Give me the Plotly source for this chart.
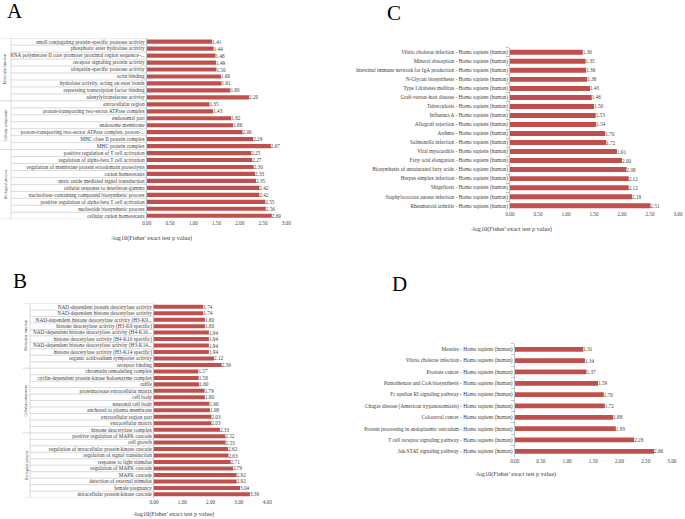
import plotly.graph_objects as go

W, H = 685, 519
BAR = "#C0504D"
GRID = "#D0D0D0"
TXT = "#404040"
FONT = "Liberation Serif"

# ---------------- Panel A (GO, group 1) ----------------
a_groups = ["Molecular function", "Cellular component", "Biological process"]
a_mf_terms = ["small conjugating protein-specific protease activity", "phosphoric ester hydrolase activity",
              "RNA polymerase II core promoter proximal region sequence-...", "receptor signaling protein activity",
              "ubiquitin-specific protease activity", "actin binding", "hydrolase activity, acting on ester bonds",
              "repressing transcription factor binding", "adenylyltransferase activity"]
a_mf_vals = [1.41, 1.44, 1.48, 1.49, 1.50, 1.60, 1.61, 1.80, 2.20]
a_cc_terms = ["extracellular region", "proton-transporting two-sector ATPase complex", "endosomal part",
              "endosome membrane", "proton-transporting two-sector ATPase complex, proton-...",
              "MHC class II protein complex", "MHC protein complex"]
a_cc_vals = [1.35, 1.43, 1.82, 1.86, 2.06, 2.29, 2.67]
a_bp_terms = ["positive regulation of T cell activation", "regulation of alpha-beta T cell activation",
              "regulation of membrane protein ectodomain proteolysis", "cation homeostasis",
              "nitric oxide mediated signal transduction", "cellular response to interferon-gamma",
              "nucleobase-containing compound biosynthetic process",
              "positive regulation of alpha-beta T cell activation", "nucleotide biosynthetic process",
              "cellular cation homeostasis"]
a_bp_vals = [2.25, 2.27, 2.30, 2.33, 2.35, 2.42, 2.42, 2.55, 2.56, 2.69]

# ---------------- Panel B (GO, group 2) ----------------
b_groups = ["Molecular function", "Cellular component", "Biological process"]
b_mf_terms = ["NAD-dependent protein deacetylase activity", "NAD-dependent histone deacetylase activity",
              "NAD-dependent histone deacetylase activity (H3-K9...", "histone deacetylase activity (H3-K9 specific)",
              "NAD-dependent histone deacetylase activity (H4-K16...", "histone deacetylase activity (H4-K16 specific)",
              "NAD-dependent histone deacetylase activity (H3-K14...", "histone deacetylase activity (H3-K14 specific)",
              "organic acid:sodium symporter activity", "receptor binding"]
b_mf_vals = [1.74, 1.74, 1.80, 1.80, 1.94, 1.94, 1.94, 1.94, 2.12, 2.39]
b_cc_terms = ["chromatin remodeling complex", "cyclin-dependent protein kinase holoenzyme complex", "ruffle",
              "proteinaceous extracellular matrix", "cell body", "neuronal cell body", "anchored to plasma membrane",
              "extracellular region part", "extracellular matrix", "histone deacetylase complex"]
b_cc_vals = [1.57, 1.58, 1.60, 1.79, 1.80, 1.96, 1.98, 2.03, 2.03, 2.33]
b_bp_terms = ["positive regulation of MAPK cascade", "cell growth", "regulation of intracellular protein kinase cascade",
              "regulation of signal transduction", "response to light stimulus", "regulation of MAPK cascade",
              "MAPK cascade", "detection of external stimulus", "female pregnancy",
              "intracellular protein kinase cascade"]
b_bp_vals = [2.52, 2.53, 2.62, 2.63, 2.71, 2.79, 2.92, 2.92, 3.04, 3.39]

# ---------------- Panel C (KEGG, group 1) ----------------
c_terms = ["Vibrio cholerae infection", "Mineral absorption", "Intestinal immune network for IgA production",
           "N-Glycan biosynthesis", "Type I diabetes mellitus", "Graft-versus-host disease", "Tuberculosis",
           "Influenza A", "Allograft rejection", "Asthma", "Salmonella infection", "Viral myocarditis",
           "Fatty acid elongation", "Biosynthesis of unsaturated fatty acids", "Herpes simplex infection",
           "Shigellosis", "Staphylococcus aureus infection", "Rheumatoid arthritis"]
c_vals = [1.30, 1.35, 1.36, 1.38, 1.43, 1.46, 1.50, 1.53, 1.54, 1.70, 1.72, 1.91, 2.00, 2.08, 2.12, 2.12, 2.18, 2.51]

# ---------------- Panel D (KEGG, group 2) ----------------
d_terms = ["Measles", "Vibrio cholerae infection", "Prostate cancer", "Pantothenate and CoA biosynthesis",
           "Fc epsilon RI signaling pathway", "Chagas disease (American trypanosomiasis)", "Colorectal cancer",
           "Protein processing in endoplasmic reticulum", "T cell receptor signaling pathway",
           "Jak-STAT signaling pathway"]
d_vals = [1.31, 1.34, 1.37, 1.59, 1.70, 1.72, 1.88, 1.93, 2.28, 2.66]

species = " - Homo sapiens (human)"
x_title = "-log10(Fisher' exact test p value)"

fig = go.Figure()


def px_x(v):
    return v / W


def px_y(v):
    return 1 - v / H


panels = [
    dict(ax="", terms=a_mf_terms + a_cc_terms + a_bp_terms, vals=a_mf_vals + a_cc_vals + a_bp_vals,
         groups=a_groups, gsizes=[len(a_mf_terms), len(a_cc_terms), len(a_bp_terms)],
         xmax=3.0, dtick=0.5, x0=146.7, x1=286.2, yt=38.2, yb=219.2, bw=0.6, fs=5.3,
         gline_x0=0.5, inner_x0=11, glabel_x=5, letter="A", lx=15, ly=11, tx=151.5, ty=237.5),
    dict(ax="2", terms=b_mf_terms + b_cc_terms + b_bp_terms, vals=b_mf_vals + b_cc_vals + b_bp_vals,
         groups=b_groups, gsizes=[len(b_mf_terms), len(b_cc_terms), len(b_bp_terms)],
         xmax=4.0, dtick=1.0, x0=154, x1=267.2, yt=303.5, yb=497.6, bw=0.62, fs=5.3,
         gline_x0=22.7, inner_x0=30, glabel_x=26, letter="B", lx=20, ly=281, tx=173, ty=514),
    dict(ax="3", terms=[t + species for t in c_terms], vals=c_vals, groups=None,
         xmax=3.0, dtick=0.5, x0=510, x1=678.0, yt=47.8, yb=210.2, bw=0.55, fs=5.3,
         letter="C", lx=394, ly=13, tx=511, ty=228.5),
    dict(ax="4", terms=[t + species for t in d_terms], vals=d_vals, groups=None,
         xmax=3.0, dtick=0.5, x0=514.7, x1=671.9, yt=343.6, yb=457.0, bw=0.42, fs=5.3,
         letter="D", lx=399, ly=284, tx=515, ty=474),
]

layout = dict(width=W, height=H, margin=dict(l=0, r=0, t=0, b=0, pad=0), paper_bgcolor="white",
              plot_bgcolor="white", showlegend=False, font=dict(family=FONT, color=TXT))
shapes = []
annotations = []

for p in panels:
    ax = p["ax"]
    n = len(p["terms"])
    xname, yname = "x" + ax, "y" + ax
    fig.add_trace(go.Bar(
        x=p["vals"], y=p["terms"], orientation="h", marker=dict(color=BAR, line=dict(width=0)),
        width=p["bw"], text=p["vals"], texttemplate="%{x:.2f}", textposition="outside",
        textfont=dict(size=5.2, color=TXT, family=FONT), cliponaxis=False, constraintext="none",
        xaxis=xname, yaxis=yname, hoverinfo="x+y"))
    layout["xaxis" + ax] = dict(domain=[px_x(p["x0"]), px_x(p["x1"])], range=[0, p["xmax"]],
                                dtick=p["dtick"], tick0=0, tickformat=".2f", showgrid=False,
                                zeroline=False, showline=False, ticks="", anchor=yname, automargin=False,
                                tickfont=dict(size=5.2, color=TXT, family=FONT), fixedrange=True)
    ycfg = dict(domain=[px_y(p["yb"]), px_y(p["yt"])], type="category", range=[n - 0.5, -0.5],
                showgrid=False, zeroline=False, showline=True, linecolor="#BFBFBF", linewidth=1,
                anchor=xname, automargin=False,
                tickfont=dict(size=p["fs"], color=TXT, family=FONT), fixedrange=True)
    if p["groups"] is None:
        ycfg.update(ticks="outside", ticklen=3, tickcolor="#BFBFBF", tickson="boundaries")
    else:
        ycfg.update(ticks="")
    layout["yaxis" + ax] = ycfg

    if p["groups"] is not None:
        bounds = [0]
        for s in p["gsizes"]:
            bounds.append(bounds[-1] + s)
        shapes.append(dict(type="line", xref="paper", yref=yname, x0=px_x(p["inner_x0"]),
                           x1=px_x(p["inner_x0"]), y0=-0.5, y1=n - 0.5,
                           line=dict(color=GRID, width=0.8)))
        for k in range(n + 1):
            xs = p["gline_x0"] if k in bounds else p["inner_x0"]
            shapes.append(dict(type="line", xref="paper", yref=yname, x0=px_x(xs), x1=px_x(p["x0"]),
                               y0=k - 0.5, y1=k - 0.5, line=dict(color=GRID, width=0.8)))
        for gi, g in enumerate(p["groups"]):
            mid = (bounds[gi] + bounds[gi + 1] - 1) / 2
            annotations.append(dict(text=g, xref="paper", yref=yname, x=px_x(p["glabel_x"]), y=mid,
                                    textangle=-90, showarrow=False, xanchor="center", yanchor="middle",
                                    font=dict(size=4.0, color=TXT, family=FONT)))

    annotations.append(dict(text=p["letter"], xref="paper", yref="paper", x=px_x(p["lx"]), y=px_y(p["ly"]),
                            showarrow=False, xanchor="center", yanchor="middle",
                            font=dict(size=21, color="black", family=FONT)))
    annotations.append(dict(text=x_title, xref="paper", yref="paper", x=px_x(p["tx"]), y=px_y(p["ty"]),
                            showarrow=False, xanchor="center", yanchor="middle",
                            font=dict(size=6.2, color=TXT, family=FONT)))

layout["shapes"] = shapes
layout["annotations"] = annotations
fig.update_layout(**layout)
fig.write_html(
    "out.html",
    config={"displayModeBar": False, "staticPlot": True},
    post_script="document.body.style.margin='0';document.body.style.padding='0';"
                "document.body.style.overflow='hidden';",
)
